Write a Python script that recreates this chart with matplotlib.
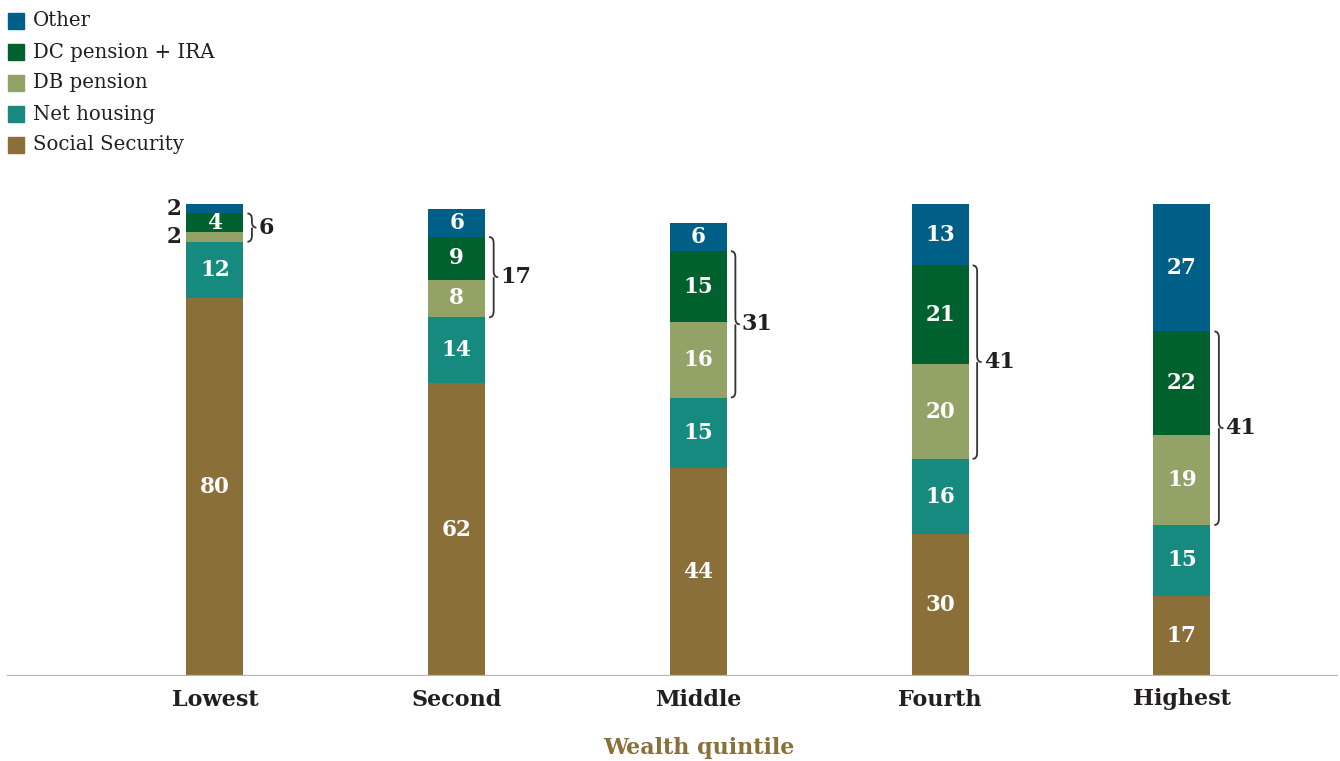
import matplotlib
matplotlib.use("Agg")
import matplotlib.pyplot as plt
from matplotlib.path import Path
from matplotlib.patches import PathPatch, Rectangle
import numpy as np

plt.rcParams['font.family'] = ['DejaVu Serif']

quintiles = ["Lowest", "Second", "Middle", "Fourth", "Highest"]
social_security = [80, 62, 44, 30, 17]
net_housing = [12, 14, 15, 16, 15]
db_pension = [2, 8, 16, 20, 19]
dc_pension_ira = [4, 9, 15, 21, 22]
other = [2, 6, 6, 13, 27]

series = [
    ("Social Security", social_security, "#8A7038"),
    ("Net housing", net_housing, "#168A7E"),
    ("DB pension", db_pension, "#93A267"),
    ("DC pension + IRA", dc_pension_ira, "#00612E"),
    ("Other", other, "#005F87"),
]

W, H = 1340, 761
fig = plt.figure(figsize=(W / 100, H / 100), dpi=100)
ax_left, ax_right, ax_bot, ax_top = 7, 1338, 676, 204
ax = fig.add_axes([ax_left / W, 1 - ax_bot / H, (ax_right - ax_left) / W, (ax_bot - ax_top) / H])

x = np.arange(len(quintiles))
bar_w = 0.236
ax.set_xlim(-0.86, 4.646)
ax.set_ylim(0, 100)

dark = "#231F20"
bottom = np.zeros(len(quintiles))
for name, vals, col in series:
    vals = np.array(vals, dtype=float)
    ax.bar(x, vals, bar_w, bottom=bottom, color=col, label=name, zorder=2)
    for i, v in enumerate(vals):
        yc = bottom[i] + v / 2
        if v >= 3:
            ax.text(x[i], yc, f"{v:g}", color="white", ha="center", va="center",
                    fontsize=15.5, fontweight="bold", zorder=3)
        else:
            ax.text(x[i] - bar_w / 2 - 0.02, yc, f"{v:g}", color=dark, ha="right",
                    va="center", fontsize=15.5, fontweight="bold", zorder=3)
    bottom += vals

# conversion factors from pixels to data units
px_x = (4.646 + 0.86) / (ax_right - ax_left)
px_y = 100 / (ax_bot - ax_top)


def brace(x0, y0, y1, width_px=9, r_px=6):
    w = width_px * px_x
    r = r_px * px_y
    ym = (y0 + y1) / 2
    xm = x0 + w / 2
    verts = [
        (x0, y1), (xm, y1), (xm, y1 - r),
        (xm, ym + r),
        (xm, ym), (x0 + w, ym),
        (xm, ym), (xm, ym - r),
        (xm, y0 + r),
        (xm, y0), (x0, y0),
    ]
    codes = [Path.MOVETO, Path.CURVE3, Path.CURVE3,
             Path.LINETO,
             Path.CURVE3, Path.CURVE3,
             Path.MOVETO, Path.CURVE3,
             Path.LINETO,
             Path.CURVE3, Path.CURVE3]
    ax.add_patch(PathPatch(Path(verts, codes), fill=False, edgecolor="#333333",
                           lw=1.3, zorder=3, clip_on=False))
    return x0 + w


for i in range(len(quintiles)):
    y0 = social_security[i] + net_housing[i]
    y1 = y0 + db_pension[i] + dc_pension_ira[i]
    xr = x[i] + bar_w / 2 + 4 * px_x
    tip = brace(xr, y0, y1)
    ax.text(tip + 2 * px_x, (y0 + y1) / 2, f"{db_pension[i] + dc_pension_ira[i]}",
            color=dark, ha="left", va="center", fontsize=16, fontweight="bold")

ax.axhline(0, color="#B5B5B5", lw=1.6, zorder=4)
for s in ax.spines.values():
    s.set_visible(False)
ax.set_yticks([])
ax.set_xticks(x)
ax.set_xticklabels(quintiles, fontsize=16, fontweight="bold", color=dark)
ax.tick_params(axis="x", length=0, pad=9)
ax.text(2, -15.3, "Wealth quintile", color="#8A7038", ha="center", va="center",
        fontsize=16, fontweight="bold")

# legend, top entry first
for k, (name, vals, col) in enumerate(reversed(series)):
    yc = 21 + 31 * k
    fig.patches.append(Rectangle((8 / W, 1 - (yc + 8) / H), 16 / W, 16 / H,
                                 transform=fig.transFigure, color=col, figure=fig))
    fig.text(33 / W, 1 - yc / H, name, ha="left", va="center", fontsize=14.2, color=dark)

fig.savefig("out.png", dpi=100)
